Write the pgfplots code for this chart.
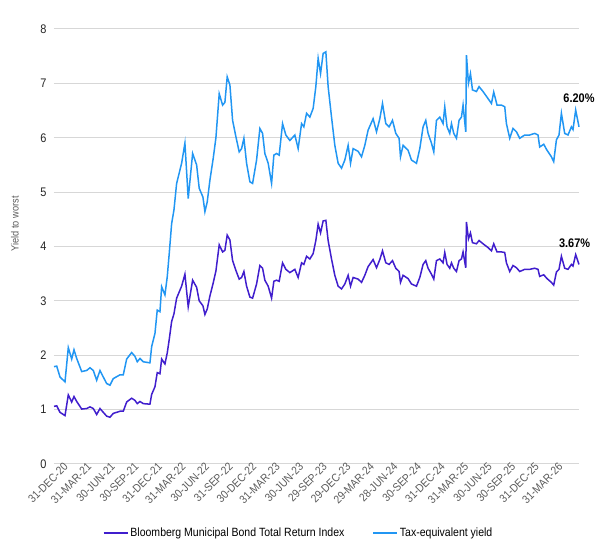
\documentclass[border=0pt]{standalone}
\usepackage{fontspec}
\setmainfont[FakeStretch=0.88]{Liberation Sans}
\usepackage{pgfplots}
\usepackage{pgfplotstable}
\pgfplotsset{compat=1.18}
\usetikzlibrary{calc}
\definecolor{muni}{RGB}{64,30,205}
\definecolor{tey}{RGB}{33,150,243}
\definecolor{gridc}{RGB}{215,215,215}
\definecolor{labc}{RGB}{90,90,90}

% q = quarter index (0 = 31-Dec-20), muni = Bloomberg Municipal yield to worst, tey = tax-equivalent yield
\pgfplotstableread{
q muni tey
-0.552 1.06 1.79
-0.437 1.07 1.80
-0.297 0.95 1.60
-0.085 0.89 1.51
0.055 1.27 2.14
0.199 1.14 1.93
0.297 1.24 2.10
0.412 1.15 1.94
0.624 1.01 1.70
0.836 1.02 1.72
0.976 1.05 1.77
1.116 1.02 1.72
1.260 0.91 1.54
1.400 1.02 1.72
1.540 0.95 1.60
1.684 0.88 1.48
1.824 0.86 1.45
1.964 0.93 1.57
2.249 0.97 1.64
2.389 0.97 1.64
2.533 1.14 1.93
2.745 1.21 2.05
2.885 1.17 1.98
2.983 1.11 1.88
3.097 1.15 1.94
3.237 1.11 1.88
3.521 1.10 1.86
3.594 1.28 2.16
3.734 1.42 2.40
3.831 1.68 2.83
3.946 1.66 2.80
4.018 1.93 3.26
4.158 1.84 3.11
4.255 2.04 3.44
4.340 2.29 3.87
4.442 2.62 4.42
4.540 2.76 4.67
4.654 3.05 5.16
4.866 3.27 5.53
5.006 3.49 5.90
5.146 2.89 4.88
5.333 3.38 5.71
5.503 3.25 5.50
5.613 3.00 5.07
5.770 2.91 4.91
5.855 2.75 4.64
5.953 2.85 4.82
6.067 3.09 5.22
6.207 3.33 5.62
6.322 3.55 6.00
6.462 4.03 6.81
6.606 3.90 6.60
6.703 3.93 6.65
6.801 4.21 7.12
6.916 4.12 6.97
7.030 3.74 6.32
7.170 3.56 6.02
7.310 3.40 5.74
7.412 3.43 5.80
7.510 3.54 5.99
7.624 3.27 5.53
7.764 3.07 5.19
7.879 3.05 5.16
8.048 3.31 5.59
8.188 3.65 6.17
8.303 3.60 6.08
8.400 3.38 5.71
8.541 3.27 5.53
8.685 3.05 5.16
8.782 3.36 5.68
8.897 3.38 5.71
9.007 3.36 5.68
9.151 3.70 6.26
9.291 3.58 6.05
9.461 3.52 5.95
9.673 3.58 6.05
9.813 3.43 5.80
9.958 3.70 6.26
10.055 3.67 6.20
10.170 3.82 6.45
10.310 3.77 6.38
10.450 3.87 6.54
10.564 4.11 6.94
10.662 4.41 7.46
10.764 4.25 7.18
10.874 4.47 7.55
10.989 4.48 7.58
11.086 4.11 6.94
11.230 3.77 6.38
11.370 3.47 5.86
11.511 3.27 5.53
11.655 3.22 5.44
11.795 3.31 5.59
11.935 3.47 5.86
12.037 3.27 5.53
12.147 3.43 5.80
12.359 3.40 5.75
12.503 3.34 5.65
12.643 3.47 5.86
12.783 3.63 6.14
12.995 3.76 6.35
13.140 3.61 6.11
13.280 3.76 6.35
13.394 3.92 6.63
13.534 3.70 6.26
13.674 3.67 6.20
13.818 3.74 6.32
13.958 3.60 6.08
14.098 3.54 5.99
14.158 3.34 5.65
14.268 3.47 5.86
14.480 3.41 5.77
14.624 3.31 5.59
14.837 3.27 5.53
14.977 3.43 5.80
15.117 3.67 6.20
15.231 3.74 6.32
15.329 3.60 6.08
15.473 3.49 5.90
15.571 3.40 5.74
15.685 3.74 6.32
15.825 3.77 6.38
15.965 3.70 6.26
16.037 3.89 6.57
16.135 3.67 6.20
16.249 3.60 6.08
16.322 3.70 6.26
16.419 3.60 6.08
16.534 3.54 5.99
16.644 3.74 6.32
16.746 3.77 6.38
16.814 3.90 6.60
16.928 3.61 6.11
16.958 4.45 7.52
17.043 4.14 7.00
17.128 4.25 7.18
17.213 4.07 6.88
17.382 4.05 6.85
17.493 4.11 6.94
17.662 4.05 6.85
17.874 3.98 6.72
18.019 3.92 6.63
18.116 4.05 6.84
18.256 3.90 6.60
18.443 3.90 6.60
18.583 3.89 6.57
18.655 3.70 6.26
18.795 3.54 5.99
18.935 3.65 6.17
19.079 3.61 6.11
19.219 3.54 5.99
19.431 3.58 6.05
19.644 3.58 6.05
19.856 3.60 6.08
19.996 3.58 6.05
20.068 3.45 5.83
20.238 3.48 5.88
20.378 3.41 5.77
20.564 3.34 5.65
20.662 3.29 5.56
20.777 3.53 5.96
20.887 3.58 6.05
20.989 3.82 6.45
21.129 3.60 6.08
21.269 3.58 6.05
21.413 3.67 6.20
21.481 3.64 6.15
21.595 3.85 6.51
21.736 3.67 6.20
}\yielddata

\begin{document}
\begin{tikzpicture}
\begin{axis}[
  name=ax,
  scale only axis,
  clip=false,
  width=525bp, height=435bp,
  xmin=-0.552, xmax=21.736,
  ymin=0, ymax=8,
  ytick={0,1,...,8},
  xtick={0,1,...,21},
  xticklabels={31-DEC-20,31-MAR-21,30-JUN-21,30-SEP-21,31-DEC-21,31-MAR-22,30-JUN-22,31-SEP-22,30-DEC-22,31-MAR-23,30-JUN-23,29-SEP-23,29-DEC-23,29-MAR-24,28-JUN-24,30-SEP-24,31-DEC-24,31-MAR-25,30-JUN-25,30-SEP-25,31-DEC-25,31-MAR-26},
  x tick label style={rotate=45, anchor=east, font=\fontsize{11.5}{13}\selectfont, text=labc, inner sep=1.5bp},
  y tick label style={font=\fontsize{12.5}{14}\selectfont, text=black!85, xshift=-4bp},
  /pgf/number format/assume math mode=true,
  axis line style={draw=none},
  major tick style={draw=none},
  ymajorgrids,
  grid style={gridc, line width=1bp},
  ylabel={Yield to worst},
  ylabel style={at={(rel axis cs:-0.0743,0.552)}, anchor=center, font=\fontsize{10.5}{12}\selectfont, text=labc},
  legend columns=2,
  legend style={draw=none, fill=none, at={(0.466,-0.1586)}, anchor=center,
    font=\fontsize{12}{14}\selectfont,
    /tikz/every even column/.append style={column sep=26bp}},
  legend image code/.code={\draw[#1] (0bp,0bp) -- (24bp,0bp);},
]
\addplot[muni, line width=1.5bp] table[x=q, y=muni] {\yielddata};
\addlegendentry{Bloomberg Municipal Bond Total Return Index}
\addplot[tey, line width=1.5bp] table[x=q, y=tey] {\yielddata};
\addlegendentry{Tax-equivalent yield}
\node[font=\bfseries\fontsize{12.5}{14}\selectfont, anchor=center] at (axis cs:21.736,6.73) {6.20\%};
\node[font=\bfseries\fontsize{12.5}{14}\selectfont, anchor=center] at (axis cs:21.55,4.06) {3.67\%};
\end{axis}
\pgfresetboundingbox
\useasboundingbox ($(ax.south west)+(-54bp,-87bp)$) rectangle ($(ax.north east)+(21bp,29bp)$);
\end{tikzpicture}
\end{document}
